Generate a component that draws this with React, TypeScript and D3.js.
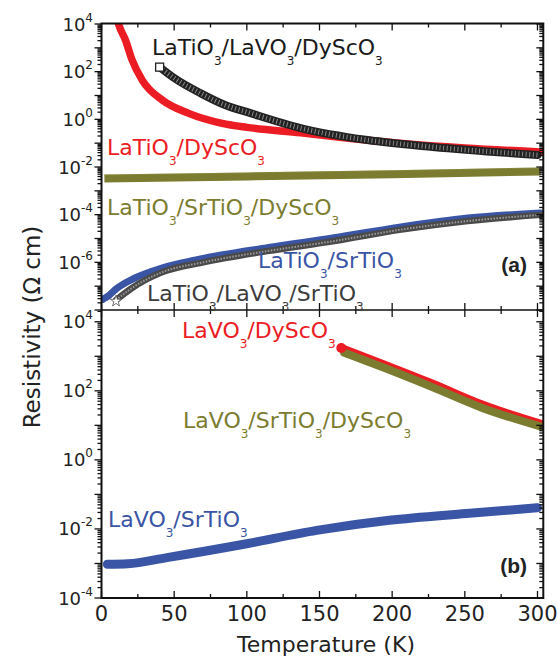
import React from 'react'
import * as d3 from 'd3'

// panel (a)
const tLtoDso = [10, 12, 16.5, 21, 28, 42, 60, 83, 100, 137, 170, 205, 250, 302]
const rLtoDso = [2.5e4, 8.9e3, 2.1e3, 316, 44, 6.3, 1.78, 0.68, 0.46, 0.27, 0.16, 0.1, 0.063, 0.043]

const tLtoLvoDso = [40, 50, 68, 85, 102, 137, 183, 228, 300]
const rLtoLvoDso = [155, 54, 12.6, 4.0, 1.86, 0.43, 0.135, 0.069, 0.032]

const tLtoStoDso = [2, 100, 200, 302]
const rLtoStoDso = [3.3e-3, 4.0e-3, 5.0e-3, 6.5e-3]

const tLtoSto = [1, 5, 10, 23, 42, 65, 114, 160, 205, 252, 302]
const rLtoSto = [2.8e-8, 4e-8, 7.6e-8, 2.2e-7, 5.9e-7, 1.26e-6, 4.1e-6, 1.07e-5, 3.0e-5, 7.2e-5, 1.17e-4]

const tLtoLvoSto = [10, 20, 42, 70, 114, 160, 205, 252, 302]
const rLtoLvoSto = [2.6e-8, 7.6e-8, 3.9e-7, 1.0e-6, 2.95e-6, 7.8e-6, 2.3e-5, 5.4e-5, 9.8e-5]

// panel (b)
const tLvoDso = [165, 194, 228, 262, 302]
const rLvoDso = [1740, 590, 160, 40, 11.2]

const tLvoStoDso = [167, 194, 228, 262, 302]
const rLvoStoDso = [1260, 470, 126, 32, 9.3]

const tLvoSto = [4, 18, 45, 98, 148, 198, 251, 300]
const rLvoSto = [9.5e-4, 9.8e-4, 1.48e-3, 3.6e-3, 9.1e-3, 1.78e-2, 2.8e-2, 4.1e-2]

const xTicks = [0, 50, 100, 150, 200, 250, 300]
const xMinor = [25, 75, 125, 175, 225, 275]
const aLabels = [4, 2, 0, -2, -4, -6]
const bLabels = [4, 2, 0, -2, -4]

const RED = '#ec1c24'
const OLIVE = '#7b7c2f'
const BLUE = '#3a55a5'
const LABEL_FONT = "'Comic Sans MS', 'DejaVu Sans', sans-serif"
const TICK_FONT = "'DejaVu Sans', sans-serif"

const L = 101.5
const R = 543.3
const TOP = 23.5
const MID = 310
const BOT = 598

const x = d3.scaleLinear().domain([0, 304]).range([L, R])
const ya = d3.scaleLog().domain([1e-8, 1e4]).range([MID, 24])
const yb = d3.scaleLog().domain([1e-4, Math.pow(10, 4.34)]).range([BOT, MID])

function path(ts: number[], rs: number[], y: any) {
  const pts = ts.map((t, i) => [x(t), y(rs[i])] as [number, number])
  return d3.line().curve(d3.curveMonotoneX)(pts) || ''
}

function Formula({ x0, y0, parts, color, size = 22 }: any) {
  // parts alternate: normal text, subscript, normal text, ...
  return (
    <text x={x0} y={y0} fill={color} fontFamily={LABEL_FONT} fontSize={size}>
      {parts.map((p: string, i: number) =>
        i % 2 === 1 ? (
          <tspan key={i} fontSize={12} dy={10}>{p}</tspan>
        ) : (
          <tspan key={i} dy={i === 0 ? 0 : -10}>{p}</tspan>
        ),
      )}
    </text>
  )
}

function YAxis({ y, lo, hi, labels }: any) {
  const major = d3.range(lo, hi + 1)
  const minor: number[] = []
  major.forEach((e: number) => {
    for (let k = 2; k <= 9; k++) {
      const v = k * Math.pow(10, e)
      const [d0, d1] = y.domain()
      if (v > d0 && v < d1) minor.push(v)
    }
  })
  return (
    <g stroke="#111" strokeWidth={1.3}>
      {major.map((e: number) => {
        const yy = y(Math.pow(10, e))
        return (
          <g key={'M' + e}>
            <line x1={L - 7} x2={L} y1={yy} y2={yy} />
            <line x1={R - 7} x2={R} y1={yy} y2={yy} />
          </g>
        )
      })}
      {minor.map((v, i) => {
        const yy = y(v)
        return (
          <g key={'m' + i}>
            <line x1={L - 4} x2={L} y1={yy} y2={yy} />
            <line x1={R - 4} x2={R} y1={yy} y2={yy} />
          </g>
        )
      })}
      {labels.map((e: number) => (
        <text key={'l' + e} x={93} y={y(Math.pow(10, e)) + 6.5} textAnchor="end"
          fontFamily={TICK_FONT} fontSize={18} fill="#222" stroke="none">
          10<tspan fontSize={12} dy={-9}>{e < 0 ? '-' + Math.abs(e) : e}</tspan>
        </text>
      ))}
    </g>
  )
}

function XTicks({ yy, dir }: any) {
  return (
    <g stroke="#111" strokeWidth={1.3}>
      {xTicks.map((t) => (
        <line key={'M' + t} x1={x(t)} x2={x(t)} y1={yy} y2={yy + dir * 7} />
      ))}
      {xMinor.map((t) => (
        <line key={'m' + t} x1={x(t)} x2={x(t)} y1={yy} y2={yy + dir * 4} />
      ))}
    </g>
  )
}

export default function App() {
  const startSq = [x(tLtoLvoDso[0]), ya(rLtoLvoDso[0])]
  const startStar = [x(tLtoLvoSto[0]), ya(rLtoLvoSto[0])]
  const startRed = [x(tLvoDso[0]), yb(rLvoDso[0])]
  const star = d3.symbol(d3.symbolStar, 40)()
  return (
    <svg width={557} height={662} style={{ display: 'block', position: 'absolute', left: 0, top: 0 }}>
      <rect width={557} height={662} fill="#fff" />
      <defs>
        <clipPath id="clipA">
          <rect x={L} y={TOP} width={R - L} height={MID - TOP} />
        </clipPath>
        <clipPath id="clipB">
          <rect x={L} y={MID} width={R - L} height={BOT - MID} />
        </clipPath>
      </defs>

      {/* panel (a) */}
      <g clipPath="url(#clipA)" fill="none" strokeLinecap="round">
        <path d={path(tLtoStoDso, rLtoStoDso, ya)} stroke={OLIVE} strokeWidth={8} strokeLinecap="butt" />
        <path d={path(tLtoStoDso, rLtoStoDso, ya)} stroke="#9a9b55" strokeWidth={1} strokeDasharray="1 2"
          transform="translate(0,-3.5)" strokeLinecap="butt" />
        <path d={path(tLtoDso, rLtoDso, ya)} stroke={RED} strokeWidth={7.5} />
        <path d={path(tLtoLvoDso, rLtoLvoDso, ya)} stroke="#222" strokeWidth={8} />
        <path d={path(tLtoLvoDso, rLtoLvoDso, ya)} stroke="#8a8a8a" strokeWidth={5} strokeDasharray="1 2.6" strokeLinecap="butt" />
        <path d={path(tLtoSto, rLtoSto, ya)} stroke={BLUE} strokeWidth={7} />
        <path d={path(tLtoLvoSto, rLtoLvoSto, ya)} stroke="#4a4a4a" strokeWidth={6.5} />
        <path d={path(tLtoLvoSto, rLtoLvoSto, ya)} stroke="#9a9a9a" strokeWidth={2} strokeDasharray="1.5 1.5" strokeLinecap="butt" />
      </g>
      <rect x={startSq[0] - 4} y={startSq[1] - 4} width={8} height={8} fill="#fff" stroke="#222" strokeWidth={1.3} />
      <path d={star} transform={`translate(${startStar[0]},${startStar[1] + 1})`} fill="#fff" stroke="#555" strokeWidth={0.8} />

      {/* panel (b) */}
      <g clipPath="url(#clipB)" fill="none" strokeLinecap="round">
        <path d={path(tLvoDso, rLvoDso, yb)} stroke={RED} strokeWidth={8} />
        <path d={path(tLvoStoDso, rLvoStoDso, yb)} stroke={OLIVE} strokeWidth={8} />
        <path d={path(tLvoSto, rLvoSto, yb)} stroke={BLUE} strokeWidth={9} />
      </g>
      <circle cx={startRed[0]} cy={startRed[1]} r={5} fill={RED} />

      {/* frame & ticks */}
      <YAxis y={ya} lo={-8} hi={4} labels={aLabels} />
      <YAxis y={yb} lo={-4} hi={4} labels={bLabels} />
      <XTicks yy={TOP} dir={1} />
      <XTicks yy={MID} dir={-1} />
      <XTicks yy={MID} dir={1} />
      <XTicks yy={BOT} dir={-1} />
      <rect x={L} y={TOP} width={R - L} height={BOT - TOP} fill="none" stroke="#111" strokeWidth={2} />
      <line x1={L} x2={R} y1={MID} y2={MID} stroke="#111" strokeWidth={1.5} />

      {xTicks.map((t) => (
        <text key={t} x={x(t)} y={621} textAnchor="middle" fontFamily={TICK_FONT} fontSize={21} fill="#222">
          {t}
        </text>
      ))}

      {/* series labels */}
      <Formula x0={152} y0={55} parts={['LaTiO', '3', '/LaVO', '3', '/DyScO', '3']} color="#1a1a1a" />
      <Formula x0={107} y0={155} parts={['LaTiO', '3', '/DyScO', '3']} color={RED} />
      <Formula x0={107} y0={215} parts={['LaTiO', '3', '/SrTiO', '3', '/DyScO', '3']} color={OLIVE} />
      <Formula x0={258} y0={268} parts={['LaTiO', '3', '/SrTiO', '3']} color={BLUE} />
      <Formula x0={147} y0={301} parts={['LaTiO', '3', '/LaVO', '3', '/SrTiO', '3']} color="#3c3c3c" />
      <Formula x0={182} y0={338} parts={['LaVO', '3', '/DyScO', '3']} color={RED} />
      <Formula x0={183} y0={428} parts={['LaVO', '3', '/SrTiO', '3', '/DyScO', '3']} color={OLIVE} />
      <Formula x0={108} y0={527} parts={['LaVO', '3', '/SrTiO', '3']} color={BLUE} />

      <text x={527} y={272} textAnchor="end" fontFamily="'Liberation Sans', Arial, sans-serif" fontWeight="bold" fontSize={21} fill="#222">(a)</text>
      <text x={527} y={573} textAnchor="end" fontFamily="'Liberation Sans', Arial, sans-serif" fontWeight="bold" fontSize={21} fill="#222">(b)</text>

      {/* axis titles */}
      <text x={326} y={652} textAnchor="middle" fontFamily={LABEL_FONT} fontSize={22} fill="#222">
        Temperature (K)
      </text>
      <text transform="translate(40,327) rotate(-90)" textAnchor="middle" fontFamily={TICK_FONT} fontSize={23} fill="#222">
        Resistivity  (Ω cm)
      </text>
    </svg>
  )
}
